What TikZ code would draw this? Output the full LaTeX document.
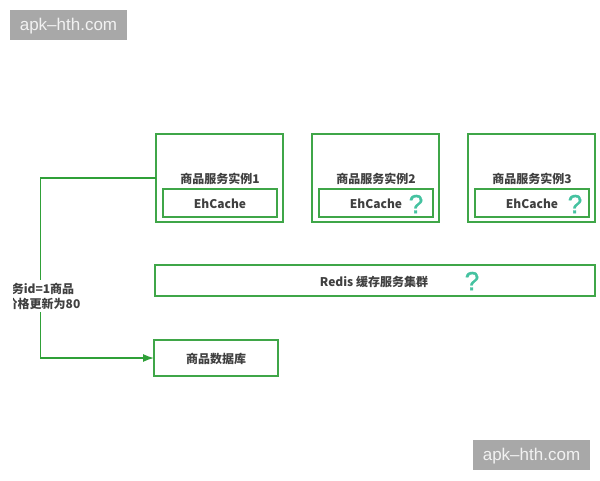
\documentclass[tikz,border=0pt]{standalone}
\usepackage{fontspec}
\setmainfont{Noto Sans CJK SC}
\newfontfamily\markfont{Liberation Sans}
\newfontfamily\askfont[FakeBold=1.5]{Liberation Sans}
\usetikzlibrary{positioning,arrows.meta}
\definecolor{boxgreen}{HTML}{3FA648}
\definecolor{arrowgreen}{HTML}{2FA038}
\definecolor{asktone}{HTML}{45C2A0}
\definecolor{inktone}{HTML}{404040}
\definecolor{markgrey}{HTML}{A8A8A8}
\tikzset{
  box/.style={draw=boxgreen,line width=1.3pt,inner sep=0pt,outer sep=0pt},
  inst/.style={box,minimum width=127pt,minimum height=88pt},
  cache/.style={box,minimum width=114pt,minimum height=28pt,text=inktone,text height=11pt,text depth=0pt,font=\fontsize{12}{14}\selectfont\bfseries},
  caption/.style={text=inktone,inner sep=0pt,outer sep=0pt,text height=11pt,text depth=0pt,font=\fontsize{12}{14}\selectfont\bfseries},
  ask/.style={text=asktone,inner sep=0pt,font=\fontsize{26}{28}\selectfont\askfont},
  wmark/.style={fill=markgrey,text=white!95!black,inner sep=0pt,text height=11pt,text depth=0pt,minimum width=117pt,minimum height=30pt,font=\fontsize{17}{19}\selectfont\markfont}
}
\begin{document}
\begin{tikzpicture}[x=1pt,y=-1pt]
\useasboundingbox (0,0) rectangle (600,480);
\node [inst] (inst1) at (219.5,178) {};
\node [inst,right = 29pt of inst1] (inst2) {};
\node [inst,right = 29pt of inst2] (inst3) {};
\node [cache] (cache1) at (220,203) {EhCache};
\node [cache,right = 42pt of cache1] (cache2) {EhCache};
\node [cache,right = 42pt of cache2] (cache3) {EhCache};
\node [caption,above = 6pt of cache1] (name1) {商品服务实例1};
\node [caption,above = 6pt of cache2] (name2) {商品服务实例2};
\node [caption,above = 6pt of cache3] (name3) {商品服务实例3};
\node [ask] (ask2) at (416,204) {?};
\node [ask] (ask3) at (575,204) {?};
\node [box,minimum width=440pt,minimum height=31pt] (redis) at (375,280.5) {};
\node [caption] (redislbl) at (374,281) {Redis 缓存服务集群};
\node [ask] (ask4) at (472,281) {?};
\node [box,minimum width=124pt,minimum height=36pt,text=inktone,text height=11pt,text depth=0pt,font=\fontsize{12}{14}\selectfont\bfseries] (db) at (216,358) {商品数据库};
\coordinate (top) at (40.5,178);
\coordinate (bot) at (40.5,358);
\draw [arrowgreen,line width=1.3pt,-{Latex[length=11pt,width=8pt]}] (inst1.west) -- (top) -- (bot) -- (db.west);
\begin{scope}
\clip (13,270) rectangle (100,320);
\node [fill=white,text=inktone,inner xsep=2pt,inner ysep=3pt,align=center,font=\fontsize{12}{15}\selectfont\bfseries] (lbl) at (43,296) {务id=1商品\\价格更新为80};
\end{scope}
\node [wmark] (mark1) at (68.5,25) {apk–hth.com};
\node [wmark] (mark2) at (531.5,455) {apk–hth.com};
\end{tikzpicture}
\end{document}
